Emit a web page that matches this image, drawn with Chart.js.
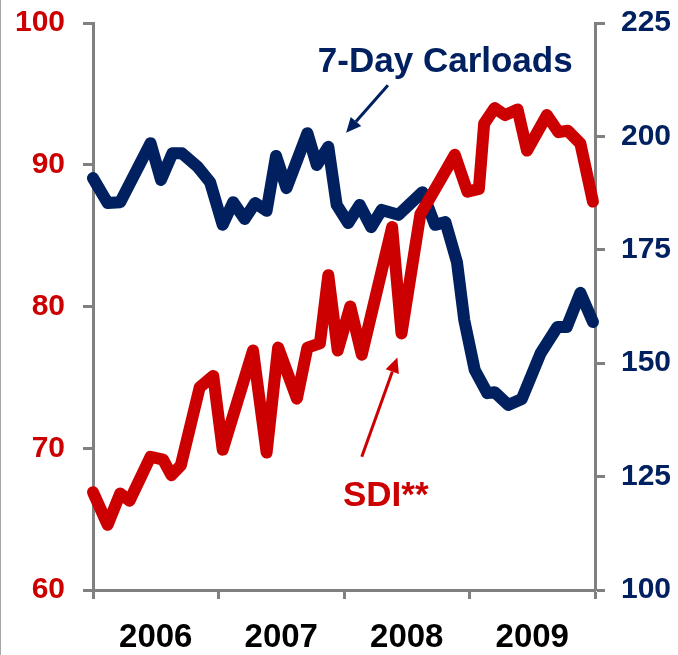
<!DOCTYPE html>
<html>
<head>
<meta charset="utf-8">
<script src="https://cdn.jsdelivr.net/npm/chart.js@4.4.1/dist/chart.umd.min.js"></script>
<style>
  html, body { margin: 0; padding: 0; background: #fff; }
  #wrap { width: 678px; height: 655px; position: relative; }
</style>
</head>
<body>
<div id="wrap"><canvas id="c" width="678" height="655"></canvas></div>
<script>
// ---- Data (months since Jan 2006) ----
const yearLabels = ['2006', '2007', '2008', '2009'];

const sdiMonths = [0, 1.4, 2.6, 3.5, 5.5, 6.7, 7.5, 8.4, 10.2, 11.5, 12.4, 15.3, 16.6, 17.7, 19.5, 20.5, 21.7, 22.5, 23.4, 24.6, 25.7, 28.6, 29.5, 31.3, 33.2, 34.6, 35.8, 36.9, 37.4, 38.4, 39.4, 40.6, 41.5, 43.4, 44.5, 45.4, 46.6, 47.8];
const sdiValues = [66.9, 64.6, 66.8, 66.3, 69.4, 69.2, 68.1, 68.8, 74.3, 75.1, 69.9, 76.9, 69.7, 77.1, 73.5, 77.1, 77.4, 82.2, 76.9, 80.0, 76.6, 85.6, 78.1, 86.5, 88.9, 90.7, 88.1, 88.3, 92.9, 94.0, 93.5, 93.9, 91.0, 93.5, 92.3, 92.4, 91.5, 87.4];

const carMonths = [0, 1.4, 2.6, 5.5, 6.5, 7.6, 8.5, 10.0, 11.2, 12.4, 13.4, 14.5, 15.5, 16.6, 17.5, 18.5, 20.5, 21.4, 22.5, 23.3, 24.4, 25.5, 26.6, 27.6, 29.2, 31.5, 32.7, 33.7, 34.8, 35.5, 36.5, 37.7, 38.4, 39.7, 41.0, 42.8, 44.4, 45.3, 46.6, 47.8];
const carValues = [190.8, 185.3, 185.5, 198.5, 190.4, 196.3, 196.3, 193.3, 189.9, 180.5, 185.5, 181.8, 185.3, 183.6, 195.7, 188.6, 200.7, 193.7, 197.7, 184.9, 180.9, 184.9, 180.0, 183.8, 182.7, 187.7, 180.5, 181.1, 172.3, 159.5, 148.5, 143.4, 143.6, 140.8, 142.1, 152.2, 158.0, 158.0, 165.5, 159.1];

// ---- Styles ----
const RED = '#CC0000';
const NAVY = '#002060';
const GRAY = '#808080';
const FONT = '"Liberation Sans", Arial, sans-serif';

const toPts = (xs, ys) => xs.map((x, i) => ({ x: x, y: ys[i] }));

// Annotations (data coordinates)
const annotations = [
  { text: '7-Day Carloads', color: NAVY, axis: 'yR', x: 21.5, y: 214.2, size: 35 },
  { text: 'SDI**', color: RED, axis: 'yL', x: 23.9, y: 65.9, size: 35 }
];
const arrows = [
  { color: NAVY, axis: 'yR', x0: 28.2, y0: 211.3, x1: 24.2, y1: 200.8 },
  { color: RED, axis: 'yL', x0: 25.7, y0: 69.4, x1: 29.1, y1: 76.4 }
];

const annotPlugin = {
  id: 'annot',
  afterDatasetsDraw(chart) {
    const ctx = chart.ctx;
    const xs = chart.scales.x;
    ctx.save();
    ctx.fillStyle = '#a6a6a6';
    ctx.fillRect(0, 0, 1, chart.height);
    annotations.forEach(a => {
      const ys = chart.scales[a.axis];
      ctx.font = 'bold ' + a.size + 'px ' + FONT;
      ctx.fillStyle = a.color;
      ctx.textAlign = 'left';
      ctx.textBaseline = 'alphabetic';
      ctx.fillText(a.text, xs.getPixelForValue(a.x), ys.getPixelForValue(a.y));
    });
    arrows.forEach(a => {
      const ys = chart.scales[a.axis];
      const x0 = xs.getPixelForValue(a.x0), y0 = ys.getPixelForValue(a.y0);
      const x1 = xs.getPixelForValue(a.x1), y1 = ys.getPixelForValue(a.y1);
      const ang = Math.atan2(y1 - y0, x1 - x0);
      const hl = 15, hw = 7;
      const bx = x1 - hl * Math.cos(ang), by = y1 - hl * Math.sin(ang);
      ctx.strokeStyle = a.color;
      ctx.fillStyle = a.color;
      ctx.lineWidth = 3;
      ctx.beginPath();
      ctx.moveTo(x0, y0);
      ctx.lineTo(bx, by);
      ctx.stroke();
      ctx.beginPath();
      ctx.moveTo(x1, y1);
      ctx.lineTo(bx + hw * Math.sin(ang), by - hw * Math.cos(ang));
      ctx.lineTo(bx - hw * Math.sin(ang), by + hw * Math.cos(ang));
      ctx.closePath();
      ctx.fill();
    });
    ctx.restore();
  }
};

new Chart(document.getElementById('c'), {
  type: 'line',
  data: {
    datasets: [
      {
        label: 'SDI**',
        data: toPts(sdiMonths, sdiValues),
        yAxisID: 'yL',
        borderColor: RED,
        borderWidth: 12,
        pointRadius: 0,
        tension: 0,
        borderJoinStyle: 'round',
        borderCapStyle: 'round',
        clip: 8
      },
      {
        label: '7-Day Carloads',
        data: toPts(carMonths, carValues),
        yAxisID: 'yR',
        borderColor: NAVY,
        borderWidth: 12,
        pointRadius: 0,
        tension: 0,
        borderJoinStyle: 'round',
        borderCapStyle: 'round',
        clip: 8
      }
    ]
  },
  options: {
    responsive: false,
    animation: false,
    layout: { padding: { top: 23, right: 0, left: 0, bottom: 0 } },
    plugins: { legend: { display: false }, tooltip: { enabled: false } },
    scales: {
      x: {
        type: 'linear',
        min: 0, max: 48,
        afterBuildTicks(scale) {
          const t = [];
          for (let v = 0; v <= 48; v += 6) t.push({ value: v });
          scale.ticks = t;
        },
        afterFit(scale) { scale.height = 65; scale.paddingLeft = 0; scale.paddingRight = 0; },
        ticks: {
          autoSkip: false, maxRotation: 0, minRotation: 0,
          color: '#000',
          font: { family: FONT, size: 33, weight: 'bold' },
          padding: 19,
          callback(v) { return (v % 12 === 6) ? yearLabels[(v - 6) / 12] : ''; }
        },
        grid: {
          drawOnChartArea: false,
          tickLength: 9, tickWidth: 3,
          tickColor: (c) => (c.tick && c.tick.value % 12 === 0) ? GRAY : 'rgba(0,0,0,0)'
        },
        border: { display: true, color: GRAY, width: 3 }
      },
      yL: {
        position: 'left',
        min: 60, max: 100,
        ticks: {
          stepSize: 10,
          color: RED,
          font: { family: FONT, size: 30, weight: 'bold' },
          padding: 18
        },
        afterFit(scale) { scale.width = 93; scale.paddingTop = 0; scale.paddingBottom = 0; },
        grid: { drawOnChartArea: false, tickLength: 10, tickWidth: 3, tickColor: GRAY },
        border: { display: true, color: GRAY, width: 3 }
      },
      yR: {
        position: 'right',
        min: 100, max: 225,
        ticks: {
          stepSize: 25,
          color: NAVY,
          font: { family: FONT, size: 30, weight: 'bold' },
          padding: 16
        },
        afterFit(scale) { scale.width = 83; scale.paddingTop = 0; scale.paddingBottom = 0; },
        grid: { drawOnChartArea: false, tickLength: 10, tickWidth: 3, tickColor: GRAY },
        border: { display: true, color: GRAY, width: 3 }
      }
    }
  },
  plugins: [annotPlugin]
});
</script>
</body>
</html>
